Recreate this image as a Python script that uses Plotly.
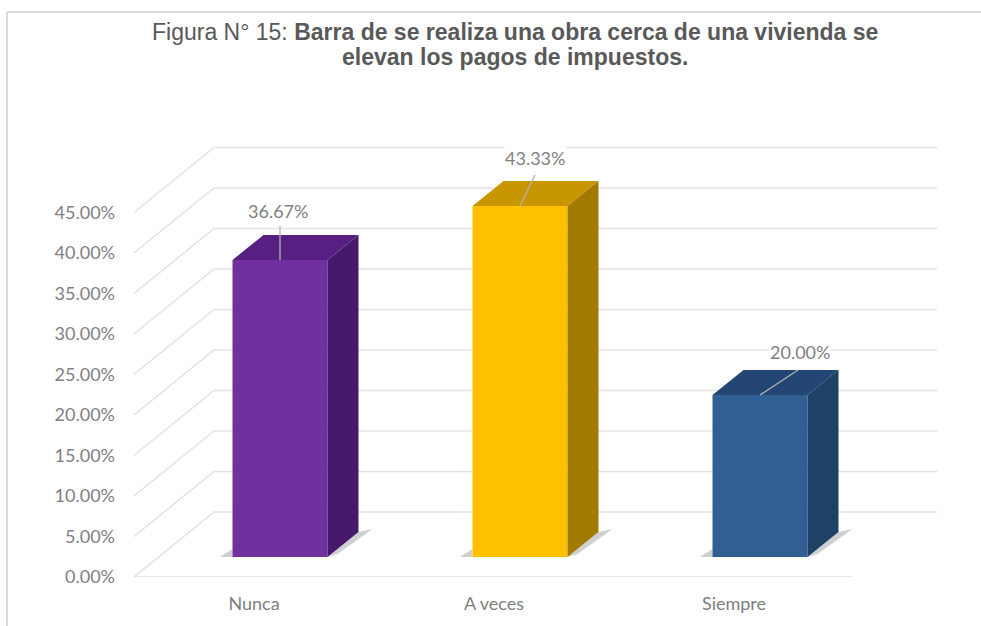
import plotly.graph_objects as go

categories = ['Nunca', 'A veces', 'Siempre']
values = [36.67, 43.33, 20.00]
y_ticks = [0, 5, 10, 15, 20, 25, 30, 35, 40, 45]
y_tick_labels = ['0.00%', '5.00%', '10.00%', '15.00%', '20.00%', '25.00%', '30.00%', '35.00%', '40.00%', '45.00%']
title_lines = ['Figura N° 15: <b>Barra de se realiza una obra cerca de una vivienda se</b>',
               '<b>elevan los pagos de impuestos.</b>']

front_colors = ['#7030A0', '#FFC000', '#315F93']
top_colors = ['#571F82', '#C89600', '#234674']
side_colors = ['#47196B', '#A37A00', '#1F4166']

W, H = 981, 626
LEFT, BOTTOM, TOP, RIGHT = 134, 577, 140, 945
PX_X = 240.0   # pixels per category
PX_Y = 8.1     # pixels per percent point


def ux(px):
    return px / PX_X


def uy(px):
    return px / PX_Y


x_min = -0.5
x_max = x_min + ux(RIGHT - LEFT)
y_max = uy(BOTTOM - TOP)

wall_dx, wall_dy = ux(80), uy(65)
wall_w = ux(723)
floor_w = ux(719)
bar_w = ux(95)
bar_shift, bar_lift = ux(26), uy(20)
depth_x, depth_y = ux(31), uy(25)

GRID = '#E3E3E3'
TEXT = '#7F7F7F'
FONT = 'Lato'

fig = go.Figure()

# back wall and side wall lines
grid_x, grid_y = [], []
for t in y_ticks:
    grid_x += [x_min, x_min + wall_dx, x_min + wall_dx + wall_w, None]
    grid_y += [t, t + wall_dy, t + wall_dy, None]
grid_x += [x_min, x_min + floor_w]
grid_y += [0, 0]
fig.add_trace(go.Scatter(x=grid_x, y=grid_y, mode='lines', line=dict(color=GRID, width=1.6),
                         hoverinfo='skip', showlegend=False, zorder=-2))

for i, cat in enumerate(categories):
    x0 = i + bar_shift - bar_w / 2
    x1 = i + bar_shift + bar_w / 2
    y0 = bar_lift
    y1 = bar_lift + values[i]

    # shadow on the floor
    fig.add_trace(go.Scatter(
        x=[x1, x1 + depth_x, x1 + depth_x + ux(14), x1 + ux(10), None, x0 - ux(13), x0, x0],
        y=[y0, y0 + depth_y, y0 + depth_y + uy(3), y0 + uy(3), None, y0, y0 + uy(8), y0],
        mode='lines', fill='toself', fillcolor='rgba(120,120,120,0.35)', line=dict(width=0),
        hoverinfo='skip', showlegend=False, zorder=-1))

    fig.add_trace(go.Bar(x=[i + bar_shift], y=[values[i]], base=bar_lift, width=bar_w,
                         marker=dict(color=front_colors[i], line=dict(width=0)),
                         name=cat, showlegend=False, zorder=0))

    # top face
    fig.add_trace(go.Scatter(
        x=[x0, x1, x1 + depth_x, x0 + depth_x, x0],
        y=[y1, y1, y1 + depth_y, y1 + depth_y, y1],
        mode='lines', fill='toself', fillcolor=top_colors[i], line=dict(width=0),
        hoverinfo='skip', showlegend=False, zorder=1))
    # side face
    fig.add_trace(go.Scatter(
        x=[x1, x1 + depth_x, x1 + depth_x, x1, x1],
        y=[y0, y0 + depth_y, y1 + depth_y, y1, y0],
        mode='lines', fill='toself', fillcolor=side_colors[i], line=dict(width=0),
        hoverinfo='skip', showlegend=False, zorder=1))

# label and leader offsets from the middle of the bar's top edge, in pixels
label_dx = [-2, 15, 40]
label_dy = [49, 48, 43]
leader_dx = [0, 15, 38]
leader_dy = [34, 31, 25]
for i, v in enumerate(values):
    cx = i + bar_shift
    top = bar_lift + v
    fig.add_trace(go.Scatter(
        x=[cx, cx + ux(leader_dx[i])], y=[top, top + uy(leader_dy[i])],
        mode='lines', line=dict(color='#B5B5B5', width=1.3),
        hoverinfo='skip', showlegend=False, zorder=2))
    fig.add_annotation(x=cx + ux(label_dx[i]), y=top + uy(label_dy[i]), text=f'{v:.2f}%',
                       showarrow=False, bgcolor='white', borderpad=0,
                       font=dict(family=FONT, size=18, color=TEXT))

fig.add_annotation(xref='paper', yref='paper', x=(515 - LEFT) / (RIGHT - LEFT),
                   y=(BOTTOM - 32) / (BOTTOM - TOP), text=title_lines[0], showarrow=False,
                   xanchor='center', yanchor='middle',
                   font=dict(family='Liberation Sans', size=23, color='#595959'))
fig.add_annotation(xref='paper', yref='paper', x=(515 - LEFT) / (RIGHT - LEFT),
                   y=(BOTTOM - 57) / (BOTTOM - TOP), text=title_lines[1], showarrow=False,
                   xanchor='center', yanchor='middle',
                   font=dict(family='Liberation Sans', size=23, color='#595959'))

# frame of the original picture
frame_x = (7 - LEFT) / (RIGHT - LEFT)
frame_y = (BOTTOM - 12) / (BOTTOM - TOP)
frame_r = (W - LEFT) / (RIGHT - LEFT)
frame_b = (BOTTOM - H) / (BOTTOM - TOP)
fig.add_shape(type='line', xref='paper', yref='paper', x0=frame_x, x1=frame_r, y0=frame_y, y1=frame_y,
              line=dict(color='#DCDCDC', width=2))
fig.add_shape(type='line', xref='paper', yref='paper', x0=frame_x, x1=frame_x, y0=frame_b, y1=frame_y,
              line=dict(color='#DCDCDC', width=2))

fig.update_layout(
    width=W, height=H, autosize=False,
    margin=dict(l=LEFT, r=W - RIGHT, t=TOP, b=H - BOTTOM, pad=0),
    paper_bgcolor='white', plot_bgcolor='white',
    showlegend=False,
    xaxis=dict(range=[x_min, x_max], tickvals=list(range(len(categories))), ticktext=categories,
               showgrid=False, zeroline=False, showline=False, ticks='',
               tickfont=dict(family=FONT, size=18, color=TEXT), ticklabelstandoff=14),
    yaxis=dict(range=[0, y_max], tickvals=y_ticks, ticktext=y_tick_labels,
               showgrid=False, zeroline=False, showline=False, ticks='',
               tickfont=dict(family=FONT, size=18, color=TEXT), ticklabelstandoff=18),
)

fig.write_html("out.html", config=dict(displayModeBar=False), post_script="document.body.style.margin='0';")
